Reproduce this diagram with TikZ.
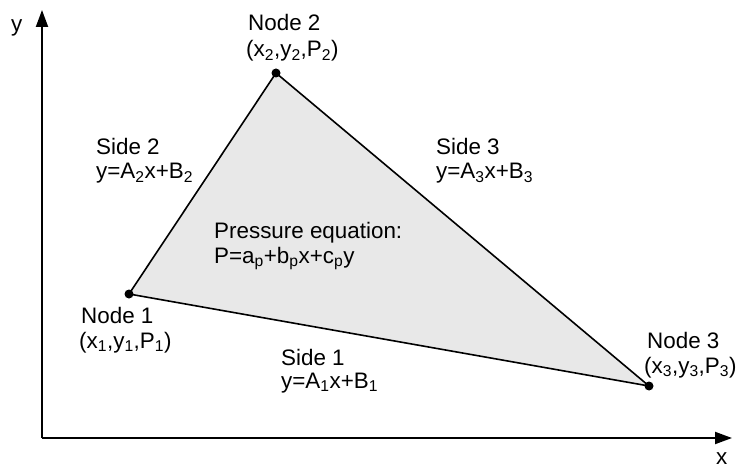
\documentclass[tikz,border=0pt]{standalone}
\usepackage{fontspec}
\setmainfont{Liberation Sans}
\usetikzlibrary{arrows.meta}
\newcommand{\sbs}[1]{\textsubscript{#1}}
\begin{document}
\begin{tikzpicture}[x=1pt,y=-1pt,
  lbl/.style={anchor=base west,inner sep=0pt,font=\fontsize{22.4}{27}\selectfont},
  axis/.style={line width=2pt,-{Triangle[length=17pt,width=12pt]}},
  edge/.style={line width=1.6pt,line join=round},
  dot/.style={circle,fill=black,inner sep=0pt,minimum size=9pt}]
\useasboundingbox (0,0) rectangle (737,468);
\coordinate (O) at (42,438);
\coordinate (ytip) at (42,10);
\coordinate (xtip) at (732,438);
\draw[axis] (O) -- (ytip);
\draw[axis] (O) -- (xtip);
\node[lbl] (ylab) at (11,32) {y};
\node[lbl] (xlab) at (716,464) {x};
\coordinate (P1) at (129,294);
\coordinate (P2) at (276,73);
\coordinate (P3) at (649,386);
\filldraw[edge,fill=black!9] (P1) -- (P2) -- (P3) -- cycle;
\node[dot] (d1) at (P1) {};
\node[dot] (d2) at (P2) {};
\node[dot] (d3) at (P3) {};
\node[lbl] (n2a) at (248,31) {Node 2};
\node[lbl] (n2b) at (246,57) {(x\sbs{2},y\sbs{2},P\sbs{2})};
\node[lbl] (n1a) at (81,323) {Node 1};
\node[lbl] (n1b) at (79,348) {(x\sbs{1},y\sbs{1},P\sbs{1})};
\node[lbl] (n3a) at (647,348) {Node 3};
\node[lbl] (n3b) at (644,373) {(x\sbs{3},y\sbs{3},P\sbs{3})};
\node[lbl] (s2a) at (96,155) {Side 2};
\node[lbl] (s2b) at (96,179) {y=A\sbs{2}x+B\sbs{2}};
\node[lbl] (s3a) at (436,155) {Side 3};
\node[lbl] (s3b) at (436,179) {y=A\sbs{3}x+B\sbs{3}};
\node[lbl] (s1a) at (281,365) {Side 1};
\node[lbl] (s1b) at (281,388) {y=A\sbs{1}x+B\sbs{1}};
\node[lbl] (pa) at (214,239) {Pressure equation:};
\node[lbl] (pb) at (214,263) {P=a\sbs{p}+b\sbs{p}x+c\sbs{p}y};
\end{tikzpicture}
\end{document}
